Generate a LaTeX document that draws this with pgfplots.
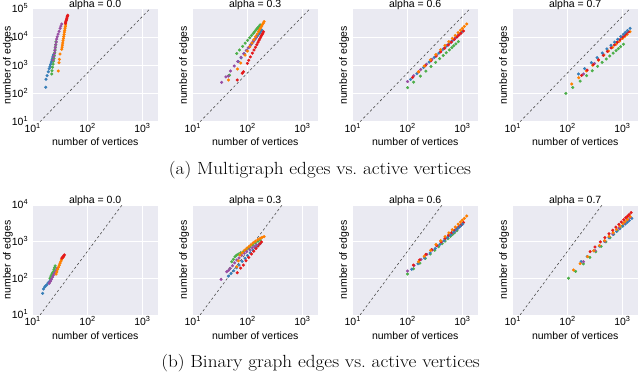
\documentclass[border=0pt]{standalone}
\usepackage{fontspec}
\usepackage{graphicx}
\usepackage{pgfplots}
\pgfplotsset{compat=1.18}
\newfontfamily\plotfont{Liberation Sans}
\definecolor{bgc}{HTML}{EAEAF2}
\definecolor{cr}{HTML}{E41A1C}
\definecolor{cb}{HTML}{377EB8}
\definecolor{cg}{HTML}{4DAF4A}
\definecolor{cp}{HTML}{984EA3}
\definecolor{co}{HTML}{FF7F00}
\pgfplotsset{
  every axis/.append style={
    scale only axis, width=125bp,
    xmin=10, xmax=1900, ymin=10,
    axis background/.style={fill=bgc},
    axis line style={draw=none},
    major tick length=0pt,
    tick style={draw=none},
    grid=major, major grid style={white, line width=0.9pt},
    font=\plotfont\fontsize{10.5bp}{12bp}\selectfont,
    xtick={10,100,1000},
    xticklabels={10\textsuperscript{1},10\textsuperscript{2},10\textsuperscript{3}},
    xlabel={number of vertices}, ylabel={number of edges},
    title style={at={(0.5,1)}, anchor=base, yshift=-4.5bp, inner sep=0pt},
    xlabel style={at={(0.5,0)}, anchor=center, yshift=-20.5bp, inner sep=0pt},
    ylabel style={at={(-0.068,0.5)}, anchor=center, rotate=0, inner sep=0pt},
    xticklabel style={anchor=base, yshift=-10.8bp, inner sep=0pt},
    yticklabel style={anchor=base east, xshift=-4.4bp, yshift=-3.8bp, inner sep=0pt},
  },
  every axis plot/.append style={only marks, mark=*, mark size=1.35pt},
}
\begin{document}
\begin{tikzpicture}
\useasboundingbox (0,0) rectangle (640bp,375bp);
% ---------------- top row ----------------
\begin{axis}[xmode=log, ymode=log, ymax=100000, height=112.8bp, ytick={10,100,1000,10000,100000},
  yticklabels={10\textsuperscript{1},10\textsuperscript{2},10\textsuperscript{3},10\textsuperscript{4},10\textsuperscript{5}},
  ylabel style={at={(-0.198,0.5)}},
  at={(32.7bp,253.3bp)}, anchor=south west, title={alpha = 0.0}]
\addplot[black!70, sharp plot, no marks, line width=0.6pt, dash pattern=on 2.4bp off 2.4bp] coordinates {(13.6,10) (1360,100000)};
\addplot[cb, mark options={draw=none, fill=cb}] coordinates {(17.3,166) (17.5,320) (18.3,430) (19.3,590) (20,760) (20.7,900) (21.3,1080) (21.9,1300) (22.5,1550) (23,1800) (23.5,2100) (24,2400)};
\addplot[cg, mark options={draw=none, fill=cg}] coordinates {(22.2,490) (22.5,640) (23,850) (23.5,1100) (24,1400) (24.4,1750) (24.8,2200) (25.2,2800) (25.6,3500) (26,4400) (26.3,5500) (26.6,6900)};
\addplot[cp, mark options={draw=none, fill=cp}] coordinates {(23.5,1550) (24.2,2000) (24.8,2600) (25.3,3300) (25.8,4200) (26.3,5300) (26.8,6700) (27.4,8500) (27.9,10300) (29,12800) (30.2,16000) (31.5,20400) (32.6,24500) (33.8,29000)};
\addplot[co, mark options={draw=none, fill=co}] coordinates {(29.3,630) (30.2,1230) (30.7,1630) (31.5,2500) (33.8,3700) (34.3,4400) (34.8,5200) (35.3,6200) (35.8,7400) (36.3,8800) (36.8,10500) (37.3,12500) (37.8,15000) (38.3,17500) (38.8,20500) (39.3,23500) (39.8,27000)};
\addplot[cr, mark options={draw=none, fill=cr}] coordinates {(39.5,31000) (40,34000) (40.5,37000) (41,40000) (41.5,43500) (42,47500) (42.5,52000) (43,56000) (43.5,60000)};
\end{axis}
\begin{axis}[xmode=log, ymode=log, ymax=100000, height=112.8bp, ytick={10,100,1000,10000,100000}, yticklabels={},
  at={(192.7bp,253.3bp)}, anchor=south west, title={alpha = 0.3}]
\addplot[black!70, sharp plot, no marks, line width=0.6pt, dash pattern=on 2.4bp off 2.4bp] coordinates {(13.6,10) (1360,100000)};
\addplot[cg, mark options={draw=none, fill=cg}] coordinates {(45,430) (47,445) (63.5,2640) (71.5,3490) (81.3,4721) (90.6,6095) (100,7691) (109.2,9484) (118,11429) (126.5,13428) (134.3,15453) (142.2,17742) (149.3,19953) (155.6,21878) (161.8,24044) (169.8,26977)};
\addplot[cb, mark options={draw=none, fill=cb}] coordinates {(68,1340) (76.6,1828) (87.1,2559) (97.1,3396) (106.9,4406) (116.9,5559) (126.5,6823) (135.5,8185) (143.6,9550) (152.4,11169) (160,12706) (166.7,14093) (173.4,15631) (182,17783)};
\addplot[cp, mark options={draw=none, fill=cp}] coordinates {(33.8,248) (40.3,387) (44.8,415) (48.9,628) (57.4,944) (66.4,1371) (75.9,1914) (85.3,2576) (94.6,3350) (103.3,4178) (112.7,5224) (121.3,6295) (128.8,7311) (136.5,8472) (146.9,10209)};
\addplot[co, mark options={draw=none, fill=co}] coordinates {(45,300) (65.3,738) (75,1200) (90.2,2312) (99.3,3206) (110.2,4571) (120.2,6166) (130.3,8091) (140,10328) (149.3,12853) (157.8,15524) (165.6,18281) (173.8,21528) (180.7,24660) (186.6,27542) (192.8,30690) (200.4,35156)};
\addplot[cr, mark options={draw=none, fill=cr}] coordinates {(65,300) (80,520) (84,590) (99.5,1170) (105,1500) (113,1986) (122.5,2692) (131.2,3475) (139.6,4385) (147.6,5420) (154.9,6531) (161.8,7691) (167.9,8851) (174.6,10162) (179.9,11429) (184.5,12560) (189.2,13772) (195,15488)};
\end{axis}
\begin{axis}[xmode=log, ymode=log, ymax=100000, height=112.8bp, ytick={10,100,1000,10000,100000}, yticklabels={},
  at={(352.7bp,253.3bp)}, anchor=south west, title={alpha = 0.6}]
\addplot[black!70, sharp plot, no marks, line width=0.6pt, dash pattern=on 2.4bp off 2.4bp] coordinates {(13.6,10) (1360,100000)};
\addplot[cg, mark options={draw=none, fill=cg}] coordinates {(100,161) (129,252) (171,412) (216,622) (267,908) (324,1274) (385,1718) (447,2239) (507,2805) (577,3516) (641,4246) (698,4932) (762,5728) (847,6918)};
\addplot[cb, mark options={draw=none, fill=cb}] coordinates {(114,318) (148,507) (195,839) (247,1288) (306,1901) (372,2692) (442,3673) (513,4831) (583,6095) (664,7691) (739,9354) (805,10914) (877,12764) (977,15488)};
\addplot[cp, mark options={draw=none, fill=cp}] coordinates {(100,265) (130,425) (174,708) (222,1091) (277,1616) (337,2301) (403,3148) (470,4150) (537,5248) (612,6650) (684,8091) (748,9462) (817,11092) (912,13490)};
\addplot[cr, mark options={draw=none, fill=cr}] coordinates {(124,372) (160,587) (211,962) (267,1459) (331,2128) (401,2992) (476,4055) (553,5284) (628,6637) (714,8337) (794,10069) (865,11722) (944,13646) (1050,16482)};
\addplot[co, mark options={draw=none, fill=co}] coordinates {(158,590) (202,942) (262,1563) (328,2399) (402,3540) (482,5023) (566,6855) (653,9016) (738,11376) (834,14388) (923,17458) (1000,20417) (1084,23878) (1200,28973)};
\end{axis}
\begin{axis}[xmode=log, ymode=log, ymax=100000, height=112.8bp, ytick={10,100,1000,10000,100000}, yticklabels={},
  at={(512.7bp,253.3bp)}, anchor=south west, title={alpha = 0.7}]
\addplot[black!70, sharp plot, no marks, line width=0.6pt, dash pattern=on 2.4bp off 2.4bp] coordinates {(13.6,10) (1360,100000)};
\addplot[cg, mark options={draw=none, fill=cg}] coordinates {(93,101) (124,163) (170,275) (222,429) (283,640) (352,918) (428,1268) (507,1679) (586,2133) (678,2716) (766,3319) (843,3899) (929,4581) (1050,5598)};
\addplot[cp, mark options={draw=none, fill=cp}] coordinates {(195,490) (310,1153) (458,2366) (628,4227) (800,6592) (982,9616) (1140,12647) (1250,14997)};
\addplot[co, mark options={draw=none, fill=co}] coordinates {(119,218) (160,363) (220,632) (288,1012) (367,1514) (458,2275) (557,3199) (662,4306) (767,5567) (887,7194) (1005,8892) (1107,10544) (1222,12503) (1380,15488)};
\addplot[cr, mark options={draw=none, fill=cr}] coordinates {(180,440) (228,674) (294,1072) (366,1585) (446,2263) (532,3119) (622,4150) (714,5321) (805,6592) (906,8166) (1000,10000) (1081,11246) (1169,12972) (1290,15488)};
\addplot[cb, mark options={draw=none, fill=cb}] coordinates {(158,490) (205,767) (272,1247) (345,1879) (429,2729) (521,3819) (619,5152) (721,6683) (820,8375) (935,10471) (1042,12618) (1135,14655) (1239,17024) (1380,20512)};
\end{axis}
% ---------------- bottom row ----------------
\begin{axis}[xmode=log, ymode=log, ymax=10000, height=110bp, ytick={10,100,1000,10000},
  yticklabels={10\textsuperscript{1},10\textsuperscript{2},10\textsuperscript{3},10\textsuperscript{4}},
  ylabel style={at={(-0.198,0.5)}},
  at={(32.7bp,60bp)}, anchor=south west, title={alpha = 0.0}]
\addplot[black!70, sharp plot, no marks, line width=0.6pt, dash pattern=on 2.4bp off 2.4bp] coordinates {(13.6,10) (425,10000)};
\addplot[cb, mark options={draw=none, fill=cb}] coordinates {(15.2,39) (15.7,51) (16.5,58) (17.2,62) (18,66) (19,74) (20,81) (21,90)};
\addplot[cg, mark options={draw=none, fill=cg}] coordinates {(20.7,100) (21.5,115) (22.3,130) (23,140) (23.8,152) (24.5,175) (25.1,195) (25.7,218)};
\addplot[cp, mark options={draw=none, fill=cp}] coordinates {(20,73) (21,82) (22,95) (23,108) (23.8,123) (25,140) (26.5,160) (28,187)};
\addplot[co, mark options={draw=none, fill=co}] coordinates {(26.7,131) (27.5,150) (28.5,175) (29.5,200) (30.5,228) (31.5,257) (32.5,290) (33.5,320) (34.5,350) (35.5,375) (36.3,390)};
\addplot[cr, mark options={draw=none, fill=cr}] coordinates {(34,355) (35,370) (36,390) (37,410) (37.8,435)};
\end{axis}
\begin{axis}[xmode=log, ymode=log, ymax=10000, height=110bp, ytick={10,100,1000,10000}, yticklabels={},
  at={(192.7bp,60bp)}, anchor=south west, title={alpha = 0.3}]
\addplot[black!70, sharp plot, no marks, line width=0.6pt, dash pattern=on 2.4bp off 2.4bp] coordinates {(13.6,10) (425,10000)};
\addplot[cb, mark options={draw=none, fill=cb}] coordinates {(44.7,115) (50,135) (56,160) (63,195) (70,230) (80,290) (90,350) (100,420) (112,500) (125,590) (138,680) (150,760) (160,830) (170,890)};
\addplot[cg, mark options={draw=none, fill=cg}] coordinates {(48,187) (51.6,284) (55,330) (59,390) (63,425) (68,460) (75,500) (84,535) (95,600) (104,680) (111,730) (125,820) (140,920) (155,1020) (170,1110)};
\addplot[cr, mark options={draw=none, fill=cr}] coordinates {(65,142) (75,190) (84,230) (94,302) (105,370) (118,460) (130,550) (142,650) (155,760) (168,870) (180,980)};
\addplot[cp, mark options={draw=none, fill=cp}] coordinates {(32.9,94) (41.7,152) (45,165) (48,187) (53,220) (58,265) (63.5,316) (70,360) (78,420) (87,480) (96.6,535) (110,600) (122,680) (135,750) (147,815)};
\addplot[co, mark options={draw=none, fill=co}] coordinates {(63.5,208) (68,300) (73,433) (80,500) (88,580) (97,660) (106,740) (116,830) (127,930) (140,1030) (155,1140) (170,1240) (185,1310) (200,1370)};
\end{axis}
\begin{axis}[xmode=log, ymode=log, ymax=10000, height=110bp, ytick={10,100,1000,10000}, yticklabels={},
  at={(352.7bp,60bp)}, anchor=south west, title={alpha = 0.6}]
\addplot[black!70, sharp plot, no marks, line width=0.6pt, dash pattern=on 2.4bp off 2.4bp] coordinates {(13.6,10) (425,10000)};
\addplot[cg, mark options={draw=none, fill=cg}] coordinates {(100,131) (128,182) (168,259) (211,350) (259,459) (313,586) (369,729) (427,881) (483,1038) (547,1222) (607,1400) (659,1563) (716,1742) (794,1995)};
\addplot[cp, mark options={draw=none, fill=cp}] coordinates {(100,158) (131,224) (176,326) (225,447) (282,596) (346,772) (414,972) (485,1189) (556,1413) (637,1679) (713,1939) (780,2178) (853,2443) (955,2818)};
\addplot[cr, mark options={draw=none, fill=cr}] coordinates {(128,230) (165,317) (216,449) (273,601) (337,785) (406,998) (481,1236) (557,1489) (632,1746) (718,2051) (796,2339) (867,2606) (942,2897) (1047,3311)};
\addplot[cb, mark options={draw=none, fill=cb}] coordinates {(119,177) (155,249) (204,360) (258,492) (320,653) (388,843) (460,1057) (535,1288) (608,1528) (692,1811) (769,2089) (838,2339) (914,2618) (1016,3020)};
\addplot[co, mark options={draw=none, fill=co}] coordinates {(158,284) (202,401) (263,582) (329,836) (403,1064) (483,1377) (568,1734) (655,2118) (740,2518) (836,2992) (925,3451) (1002,3873) (1086,4345) (1202,5012)};
\end{axis}
\begin{axis}[xmode=log, ymode=log, ymax=10000, height=110bp, ytick={10,100,1000,10000}, yticklabels={},
  at={(512.7bp,60bp)}, anchor=south west, title={alpha = 0.7}]
\addplot[black!70, sharp plot, no marks, line width=0.6pt, dash pattern=on 2.4bp off 2.4bp] coordinates {(13.6,10) (425,10000)};
\addplot[cg, mark options={draw=none, fill=cg}] coordinates {(104,100) (140,155) (194,248) (255,371) (327,533) (409,740) (500,989) (596,1276) (692,1589) (804,1977) (910,2371) (1005,2742) (1112,3170) (1259,3802)};
\addplot[cb, mark options={draw=none, fill=cb}] coordinates {(177,285) (228,395) (301,562) (380,759) (471,1019) (570,1274) (676,1581) (785,1914) (891,2254) (1014,2649) (1127,3034) (1227,3388) (1337,3776) (1486,4325)};
\addplot[cp, mark options={draw=none, fill=cp}] coordinates {(195,285) (318,570) (480,1021) (670,1637) (863,2350) (1072,3184) (1253,3981) (1380,4571)};
\addplot[co, mark options={draw=none, fill=co}] coordinates {(128,169) (170,252) (232,390) (301,564) (383,787) (474,1064) (573,1393) (678,1762) (782,2153) (902,2630) (1016,3112) (1117,3556) (1227,4064) (1384,4808)};
\addplot[cr, mark options={draw=none, fill=cr}] coordinates {(258,533) (317,716) (396,984) (479,1288) (569,1644) (664,2051) (762,2495) (861,2958) (955,3428) (1057,3972) (1153,4487) (1236,4943) (1324,5458) (1442,6166)};
\end{axis}
% ---------------- captions ----------------
\node[anchor=base, inner sep=0pt, font=\fontsize{17.6bp}{20bp}\selectfont] at (320bp,200.7bp) {\scalebox{1.09}[1]{(a) Multigraph edges vs.\ active vertices}};
\node[anchor=base, inner sep=0pt, font=\fontsize{17.6bp}{20bp}\selectfont] at (320.5bp,8bp) {\scalebox{1.09}[1]{(b) Binary graph edges vs.\ active vertices}};
\end{tikzpicture}
\end{document}
